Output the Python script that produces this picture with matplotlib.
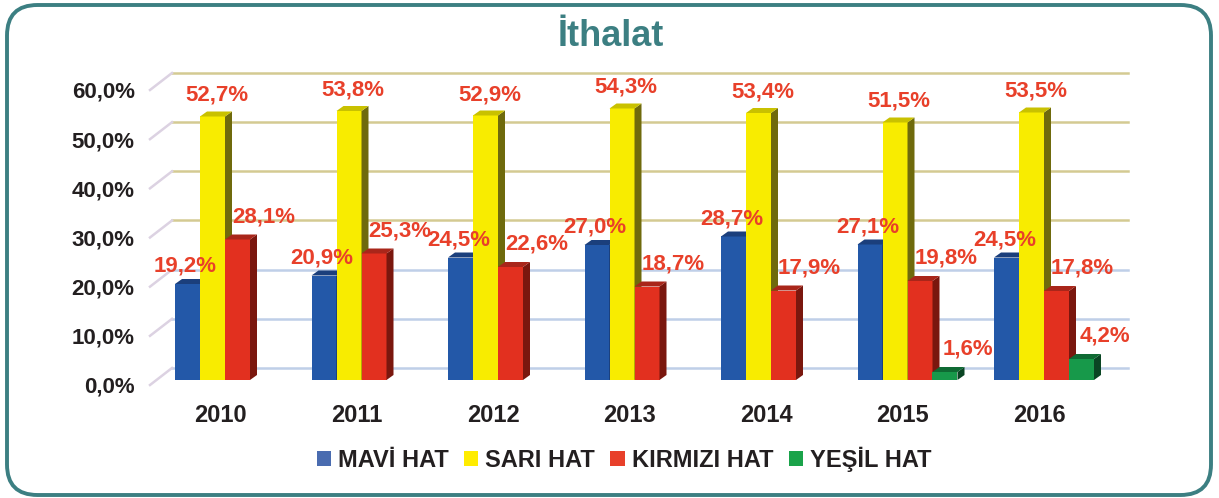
import matplotlib.pyplot as plt
from matplotlib.patches import Polygon, Patch, FancyBboxPatch

# ======================
# data
# ======================
years = ["2010", "2011", "2012", "2013", "2014", "2015", "2016"]
mavi = [19.2, 20.9, 24.5, 27.0, 28.7, 27.1, 24.5]
sari = [52.7, 53.8, 52.9, 54.3, 53.4, 51.5, 53.5]
kirmizi = [28.1, 25.3, 22.6, 18.7, 17.9, 19.8, 17.8]
yesil = [0.0, 0.0, 0.0, 0.0, 0.0, 1.6, 4.2]
series_names = ["MAVİ HAT", "SARI HAT", "KIRMIZI HAT", "YEŞİL HAT"]
y_ticks = [0, 10, 20, 30, 40, 50, 60]

# ======================
# style
# ======================
front_cols = ["#2358a8", "#f8ec00", "#e2301f", "#17994a"]
top_cols = ["#1b3f7c", "#c9c100", "#a9261a", "#0f6a33"]
side_cols = ["#142c58", "#6f6a0c", "#7a170e", "#0a4523"]
legend_cols = ["#4a6cb0", "#ffec00", "#e8402a", "#1aa34a"]
label_red = "#e8402a"
dark = "#231f20"
teal = "#3c7f82"
# label offsets (px) from the top-centre of each bar, per series
label_off = [(-2, 18), (4, 21), (26, 23), (23, 23)]

plt.rcParams['font.family'] = ['Liberation Sans', 'DejaVu Sans']

W, H = 1219, 498
fig = plt.figure(figsize=(W / 100, H / 100), dpi=100)


def rect(x0, x1, ytop, ybot):
    return [x0 / W, 1 - ybot / H, (x1 - x0) / W, (ybot - ytop) / H]


# frame
fig.patches.append(FancyBboxPatch((7 / W, 3 / H), 1204 / W, 490 / H,
                                  boxstyle="round,pad=0,rounding_size=0.025",
                                  transform=fig.transFigure, facecolor="none",
                                  edgecolor=teal, linewidth=2.8, zorder=-1,
                                  mutation_aspect=W / H))

fig.text(611 / W, 1 - 36 / H, "İthalat", ha="center", va="center",
         fontsize=26, fontweight="bold", color=teal)

# ======================
# grid plane + y labels
# ======================
gx = fig.add_axes(rect(150, 1128, 90, 385))
gx.set_xlim(0, 978)
gx.set_ylim(0, 60)
gx.patch.set_alpha(0)
for s in gx.spines.values():
    s.set_visible(False)
gx.set_xticks([])
gx.set_yticks(y_ticks)
gx.set_yticklabels([f"{v:.1f}%".replace(".", ",") for v in y_ticks],
                   fontsize=16, fontweight="bold", color=dark)
gx.tick_params(axis="y", length=0, pad=11)
depth_x, depth_y = 22, 17 / (295 / 60)
for v in y_ticks:
    c = "#bfcfe8" if v < 30 else "#d4ca92"
    gx.plot([depth_x, 978], [v + depth_y] * 2, color=c, lw=1.8, zorder=1,
            clip_on=False)
    gx.plot([0, depth_x], [v, v + depth_y], color="#dcd2e2", lw=1.8, zorder=1,
            clip_on=False)

# ======================
# bars
# ======================
ax = fig.add_axes(rect(150, 1128, 80, 380))
ax.set_xlim(-75 / 136.5, 903 / 136.5)
ax.set_ylim(0, 60)
ax.patch.set_alpha(0)
for s in ax.spines.values():
    s.set_visible(False)

w = 25 / 136.5
dx, dy = 7 / 136.5, 1.0
all_vals = [mavi, sari, kirmizi, yesil]
for k, vals in enumerate(all_vals):
    xs = [i + (k - 1.5) * w for i in range(len(years))]
    keep = [(x, v) for x, v in zip(xs, vals) if v > 0]
    ax.bar([x for x, _ in keep], [v for _, v in keep], w,
           color=front_cols[k], zorder=3 + k, linewidth=0)
    for x, v in keep:
        xl, xr = x - w / 2, x + w / 2
        ax.add_patch(Polygon([(xr, 0), (xr + dx, dy), (xr + dx, v + dy), (xr, v)],
                             closed=True, facecolor=side_cols[k], lw=0, zorder=3 + k))
        ax.add_patch(Polygon([(xl, v), (xl + dx, v + dy), (xr + dx, v + dy), (xr, v)],
                             closed=True, facecolor=top_cols[k], lw=0, zorder=3 + k))
        ox, oy = label_off[k]
        ax.annotate(f"{v:.1f}%".replace(".", ","), (x, v),
                    xytext=(ox * 0.72, oy * 0.72), textcoords="offset points",
                    ha="center", va="center", fontsize=16, fontweight="bold",
                    color=label_red, zorder=10)

# year labels sit a little left of the group centre (front edge of the 3D floor)
ax.set_xticks([i - 5 / 136.5 for i in range(len(years))])
ax.set_xticklabels(years, fontsize=17, fontweight="bold", color=dark)
ax.set_yticks([])
ax.tick_params(axis="x", length=0, pad=17)

# ======================
# legend
# ======================
handles = [Patch(facecolor=c, edgecolor="none") for c in legend_cols]
fig.legend(handles, series_names, loc="center", bbox_to_anchor=(624 / W, 1 - 459 / H),
           ncol=4, frameon=False, handlelength=0.6, handleheight=0.6,
           handletextpad=0.3, columnspacing=0.65,
           prop={"weight": "bold", "size": 17})
for t in fig.legends[0].get_texts():
    t.set_color(dark)

fig.savefig("out.png", dpi=100)
